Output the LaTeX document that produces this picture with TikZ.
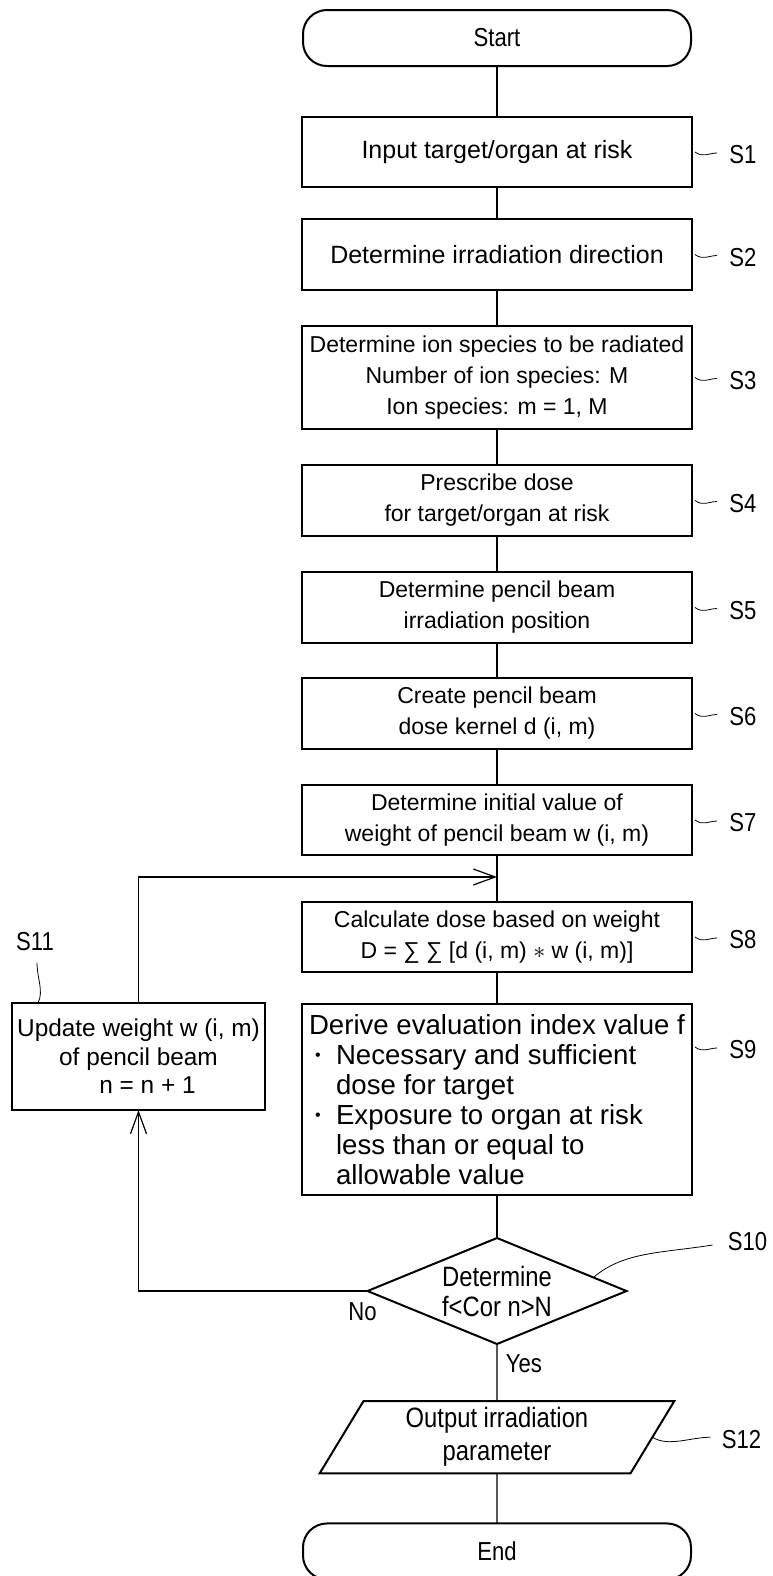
\documentclass[tikz,border=0pt]{standalone}
\usepackage{fontspec}
\setmainfont{Liberation Sans}
\newfontfamily\narrowsf{Liberation Sans}[FakeStretch=0.85]
\usepackage{tikz}
\usetikzlibrary{shapes,arrows.meta}
\newcommand{\dotitem}{\hspace*{3pt}\makebox[10.5pt][l]{\raisebox{2pt}{\fontsize{8}{8}\selectfont •}}}

\begin{document}
\begin{tikzpicture}[
stepbox/.style =
  {rectangle, draw, line width=1pt, outer sep=0pt,
   minimum width=195pt, minimum height=35.5pt,
   align=center, inner sep=2pt,
   font=\fontsize{11.5}{15.5}\selectfont},
termbox/.style =
  {rectangle, draw, line width=1pt, outer sep=0pt, rounded corners=12pt,
   minimum width=194pt, minimum height=28pt,
   font=\narrowsf\fontsize{13}{15}\selectfont},
decision/.style =
  {diamond, draw, line width=1pt, outer sep=0pt, aspect=2.44, inner sep=0pt,
   minimum width=129.5pt, minimum height=53pt, align=center,
   font=\narrowsf\fontsize{14}{15}\selectfont},
iobox/.style =
  {trapezium, draw, line width=1pt, outer sep=0pt,
   trapezium left angle=66, trapezium right angle=114,
   trapezium stretches=true, minimum width=177.5pt, minimum height=36pt,
   align=center, font=\narrowsf\fontsize{14}{16.5}\selectfont},
steplabel/.style = {inner sep=0pt, font=\narrowsf\fontsize{13}{15}\selectfont},
flow/.style = {line width=0.6pt},
loop arrow/.style = {line width=0.6pt, -{Straight Barb[length=11pt,width=8pt]}},
tilde/.style = {line width=0.4pt}
]
\useasboundingbox (0,0) rectangle (386pt,-788pt);
%Main column
\node[termbox] (start) at (248.5pt,-19pt) {Start};
\node[stepbox, anchor=north, minimum height=35pt, font=\fontsize{12.5}{15.5}\selectfont] (s1) at ([yshift=-25.5pt]start.south) {Input target/organ at risk};
\node[stepbox, anchor=north, font=\fontsize{12.5}{15.5}\selectfont] (s2) at ([yshift=-16pt]s1.south) {Determine irradiation direction};
\node[stepbox, anchor=north, minimum height=51.5pt] (s3) at ([yshift=-18pt]s2.south) {Determine ion species to be radiated\\ Number of ion species: M\\ Ion species: m = 1, M};
\node[stepbox, anchor=north] (s4) at ([yshift=-18pt]s3.south) {Prescribe dose\\ for target/organ at risk};
\node[stepbox, anchor=north] (s5) at ([yshift=-18pt]s4.south) {Determine pencil beam\\ irradiation position};
\node[stepbox, anchor=north] (s6) at ([yshift=-17.5pt]s5.south) {Create pencil beam\\ dose kernel d (i, m)};
\node[stepbox, anchor=north, minimum height=35pt] (s7) at ([yshift=-18pt]s6.south) {Determine initial value of\\ weight of pencil beam w (i, m)};
\coordinate (join) at ([yshift=-11pt]s7.south);
\node[stepbox, anchor=north, minimum height=35pt] (s8) at ([yshift=-23.5pt]s7.south) {Calculate dose based on weight\\ D = ∑ ∑ [d (i, m) $\ast$ w (i, m)]};
\node[stepbox, anchor=north, minimum height=95.5pt, align=left, font=\fontsize{13.8}{15}\selectfont] (s9) at ([yshift=-16pt]s8.south)
  {Derive evaluation index value f\\
   \dotitem Necessary and sufficient\\
   \hspace*{13.5pt}dose for target\\
   \dotitem Exposure to organ at risk\\
   \hspace*{13.5pt}less than or equal to\\
   \hspace*{13.5pt}allowable value};
\node[decision, anchor=north] (s10) at ([yshift=-21.5pt]s9.south) {Determine\\ f<Cor n>N};
\node[iobox, anchor=north] (s12) at ([yshift=-28.5pt]s10.south) {Output irradiation\\ parameter};
\node[termbox, anchor=north] (stop) at ([yshift=-25pt]s12.south) {End};
%Loop box
\node[stepbox, anchor=east, minimum width=126.5pt, minimum height=53.5pt, inner xsep=0.5pt, font=\fontsize{12.2}{14.3}\selectfont] (s11) at ([xshift=-18.5pt,yshift=21.5pt]s9.west) {Update weight w (i, m)\\ of pencil beam\\ \hspace*{9pt}n = n + 1};
%Connectors
\draw[flow] (start) -- (s1);
\draw[flow] (s1) -- (s2);
\draw[flow] (s2) -- (s3);
\draw[flow] (s3) -- (s4);
\draw[flow] (s4) -- (s5);
\draw[flow] (s5) -- (s6);
\draw[flow] (s6) -- (s7);
\draw[flow] (s7) -- (s8);
\draw[flow] (s8) -- (s9);
\draw[flow] (s9) -- (s10);
\draw[flow] (s10) -- (s12);
\draw[flow] (s12) -- (stop);
\draw[loop arrow] (s10.west) -| (s11.south);
\draw[loop arrow] (s11.north) |- (join);
\node[steplabel] (no) at ([xshift=-2.5pt,yshift=-10.5pt]s10.west) {No};
\node[steplabel] (yes) at ([xshift=13.5pt,yshift=-10pt]s10.south) {Yes};
%Step labels
\node[steplabel, anchor=west] (l1) at ([xshift=18.5pt,yshift=-1.5pt]s1.east) {S1};
\draw[tilde] ([xshift=1.5pt]s1.east) .. controls +(4pt,-3pt) and +(-4pt,0pt) .. ([xshift=-6pt,yshift=1pt]l1.west);
\node[steplabel, anchor=west] (l2) at ([xshift=18.5pt,yshift=-1.5pt]s2.east) {S2};
\draw[tilde] ([xshift=1.5pt]s2.east) .. controls +(4pt,-3pt) and +(-4pt,0pt) .. ([xshift=-6pt,yshift=1pt]l2.west);
\node[steplabel, anchor=west] (l3) at ([xshift=18.5pt,yshift=-1.5pt]s3.east) {S3};
\draw[tilde] ([xshift=1.5pt]s3.east) .. controls +(4pt,-3pt) and +(-4pt,0pt) .. ([xshift=-6pt,yshift=1pt]l3.west);
\node[steplabel, anchor=west] (l4) at ([xshift=18.5pt,yshift=-1.5pt]s4.east) {S4};
\draw[tilde] ([xshift=1.5pt]s4.east) .. controls +(4pt,-3pt) and +(-4pt,0pt) .. ([xshift=-6pt,yshift=1pt]l4.west);
\node[steplabel, anchor=west] (l5) at ([xshift=18.5pt,yshift=-1.5pt]s5.east) {S5};
\draw[tilde] ([xshift=1.5pt]s5.east) .. controls +(4pt,-3pt) and +(-4pt,0pt) .. ([xshift=-6pt,yshift=1pt]l5.west);
\node[steplabel, anchor=west] (l6) at ([xshift=18.5pt,yshift=-1.5pt]s6.east) {S6};
\draw[tilde] ([xshift=1.5pt]s6.east) .. controls +(4pt,-3pt) and +(-4pt,0pt) .. ([xshift=-6pt,yshift=1pt]l6.west);
\node[steplabel, anchor=west] (l7) at ([xshift=18.5pt,yshift=-1.5pt]s7.east) {S7};
\draw[tilde] ([xshift=1.5pt]s7.east) .. controls +(4pt,-3pt) and +(-4pt,0pt) .. ([xshift=-6pt,yshift=1pt]l7.west);
\node[steplabel, anchor=west] (l8) at ([xshift=18.5pt,yshift=-1.5pt]s8.east) {S8};
\draw[tilde] ([xshift=1.5pt]s8.east) .. controls +(4pt,-3pt) and +(-4pt,0pt) .. ([xshift=-6pt,yshift=1pt]l8.west);
\node[steplabel, anchor=west] (l9) at ([xshift=18.5pt,yshift=-23pt]s9.north east) {S9};
\draw[tilde] ([xshift=1.5pt,yshift=-21.5pt]s9.north east) .. controls +(4pt,-3pt) and +(-4pt,0pt) .. ([xshift=-6pt,yshift=1pt]l9.west);
\node[steplabel, anchor=west] (l10) at ([xshift=50.5pt,yshift=24.5pt]s10.east) {S10};
\draw[tilde] (s10.8) .. controls +(15pt,13pt) and +(-25pt,-4pt) .. ([xshift=-7.5pt,yshift=-1.5pt]l10.west);
\node[steplabel, anchor=west] (l12) at ([xshift=34.5pt,yshift=-1pt]s12.east) {S12};
\draw[tilde] (s12.east) .. controls +(8pt,-5pt) and +(-10pt,0pt) .. ([xshift=-5.5pt,yshift=1pt]l12.west);
\node[steplabel] (l11) at ([xshift=11.5pt,yshift=30.5pt]s11.north west) {S11};
\draw[tilde] ([xshift=13pt]s11.north west) .. controls +(3pt,6pt) and +(0pt,-8pt) .. ([xshift=1pt,yshift=-5.5pt]l11.south);
\end{tikzpicture}
\end{document}
